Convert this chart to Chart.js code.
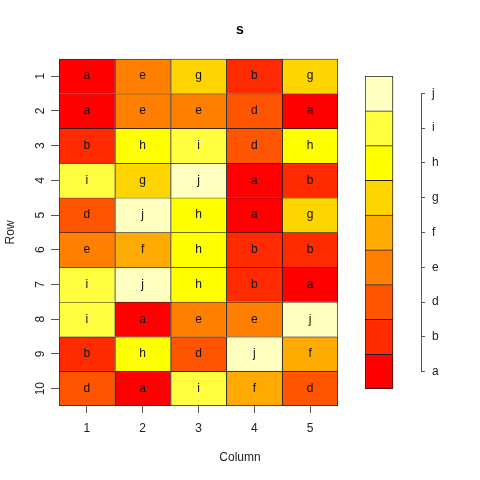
<!DOCTYPE html>
<html>
<head>
<meta charset="utf-8">
<script src="https://cdn.jsdelivr.net/npm/chart.js@4"></script>
<style>
  html, body { margin: 0; padding: 0; background: #fff; }
  #wrap { position: relative; width: 480px; height: 480px; }
  #wrap canvas { position: absolute; left: 0; top: 0; }
</style>
</head>
<body>
<div id="wrap">
  <canvas id="heat" width="480" height="480"></canvas>
  <canvas id="key" width="480" height="480"></canvas>
</div>
<script>
'use strict';

const colLabels = ['1', '2', '3', '4', '5'];
const rowLabels = ['1', '2', '3', '4', '5', '6', '7', '8', '9', '10'];
const levels = ['a', 'b', 'd', 'e', 'f', 'g', 'h', 'i', 'j'];
const levelColors = ['#FF0000', '#FF2A00', '#FF5500', '#FF8000', '#FFAA00',
                     '#FFD500', '#FFFF00', '#FFFF40', '#FFFFBF'];

// one list per row, left to right
const row1 = ['a', 'e', 'g', 'b', 'g'];
const row2 = ['a', 'e', 'e', 'd', 'a'];
const row3 = ['b', 'h', 'i', 'd', 'h'];
const row4 = ['i', 'g', 'j', 'a', 'b'];
const row5 = ['d', 'j', 'h', 'a', 'g'];
const row6 = ['e', 'f', 'h', 'b', 'b'];
const row7 = ['i', 'j', 'h', 'b', 'a'];
const row8 = ['i', 'a', 'e', 'e', 'j'];
const row9 = ['b', 'h', 'd', 'j', 'f'];
const row10 = ['d', 'a', 'i', 'f', 'd'];
const cells = [row1, row2, row3, row4, row5, row6, row7, row8, row9, row10];

const FONT = "'Liberation Sans', Arial, Helvetica, sans-serif";
Chart.defaults.font.family = FONT;
Chart.defaults.font.size = 12;

const LINE = '#1e1e1e';
const TICK = '#555';
const TEXT = '#222';

const cellColor = (letter) => levelColors[levels.indexOf(letter)];

// writes the level letter in the middle of every cell
const cellText = {
  id: 'cellText',
  afterDatasetsDraw(chart) {
    const ctx = chart.ctx;
    ctx.save();
    ctx.font = '12px ' + FONT;
    ctx.fillStyle = '#111';
    ctx.textAlign = 'center';
    ctx.textBaseline = 'middle';
    chart.data.datasets.forEach((ds, i) => {
      chart.getDatasetMeta(i).data.forEach((bar, j) => {
        ctx.fillText(ds.letters[j], bar.x, (bar.y + bar.base) / 2);
      });
    });
    ctx.restore();
  },
};

const heatSets = cells.map((row, i) => ({
  label: 'Row ' + rowLabels[i],
  data: row.map(() => 1),
  letters: row,
  backgroundColor: row.map(cellColor),
  borderColor: LINE,
  borderWidth: (c) => ({
    top: 1,
    left: 1,
    right: c.dataIndex === colLabels.length - 1 ? 1 : 0,
    bottom: i === cells.length - 1 ? 1 : 0,
  }),
  borderSkipped: false,
  categoryPercentage: 1,
  barPercentage: 1,
}));

new Chart(document.getElementById('heat'), {
  type: 'bar',
  data: { labels: colLabels, datasets: heatSets },
  plugins: [cellText],
  options: {
    responsive: false,
    animation: false,
    layout: { padding: 0 },
    plugins: {
      legend: { display: false },
      tooltip: { enabled: false },
      title: {
        display: true,
        text: 's',
        color: '#000',
        font: { size: 14, weight: 'bold' },
        padding: { top: 22, bottom: 20 },
      },
      subtitle: {
        display: true,
        position: 'bottom',
        text: 'Column',
        color: TEXT,
        font: { size: 12 },
        padding: { top: 4, bottom: 15 },
      },
    },
    scales: {
      x: {
        stacked: true,
        grid: { offset: false, drawOnChartArea: false, tickLength: 7, color: TICK },
        border: { display: false },
        ticks: { color: TEXT, padding: 8 },
        afterFit: (s) => { s.height = 40.6; },
      },
      y: {
        stacked: true,
        reverse: true,
        min: 0,
        max: rowLabels.length,
        afterBuildTicks: (s) => { s.ticks = rowLabels.map((_, i) => ({ value: i + 0.5 })); },
        ticks: {
          callback: (v, i) => rowLabels[i],
          minRotation: 90,
          maxRotation: 90,
          crossAlign: 'center',
          padding: 4,
          color: TEXT,
          autoSkip: false,
        },
        grid: { drawOnChartArea: false, tickLength: 8, color: TICK },
        border: { display: false },
        title: { display: true, text: 'Row', color: TEXT, padding: { top: 3, bottom: 0 } },
        afterFit: (s) => { s.width = 59; },
      },
      // empty strip on the right where the key sits
      keySpace: {
        type: 'linear',
        position: 'right',
        grid: { display: false },
        ticks: { display: false },
        border: { display: false },
        afterFit: (s) => { s.width = 142; },
      },
    },
  },
});

// key: vertical line of the axis, drawn from first to last tick
const keyAxisLine = {
  id: 'keyAxisLine',
  afterDraw(chart) {
    const s = chart.scales.y;
    const ctx = chart.ctx;
    const x = Math.round(s.left) + 0.5;
    ctx.save();
    ctx.strokeStyle = TICK;
    ctx.lineWidth = 1;
    ctx.beginPath();
    ctx.moveTo(x, s.getPixelForValue(levels.length - 0.5));
    ctx.lineTo(x, s.getPixelForValue(0.5));
    ctx.stroke();
    ctx.restore();
  },
};

const keySets = levels.map((lv, i) => ({
  label: lv,
  data: [1, null],
  backgroundColor: levelColors[i],
  borderColor: LINE,
  borderWidth: { top: 1, left: 1, right: 1, bottom: i === 0 ? 1 : 0 },
  borderSkipped: false,
  categoryPercentage: 1,
  barPercentage: 1,
}));

new Chart(document.getElementById('key'), {
  type: 'bar',
  data: { labels: ['bar', 'gap'], datasets: keySets },
  plugins: [keyAxisLine],
  options: {
    responsive: false,
    animation: false,
    layout: { padding: { left: 365, right: 0, top: 76, bottom: 91 } },
    plugins: { legend: { display: false }, tooltip: { enabled: false } },
    scales: {
      x: { display: false, stacked: true },
      y: {
        position: 'right',
        stacked: true,
        min: 0,
        max: levels.length,
        afterBuildTicks: (s) => { s.ticks = levels.map((_, i) => ({ value: i + 0.5 })); },
        ticks: { callback: (v, i) => levels[i], padding: 7, color: TEXT, autoSkip: false },
        grid: { drawOnChartArea: false, tickLength: 4, color: TICK },
        border: { display: false },
        afterFit: (s) => { s.width = 59; },
      },
    },
  },
});
</script>
</body>
</html>
